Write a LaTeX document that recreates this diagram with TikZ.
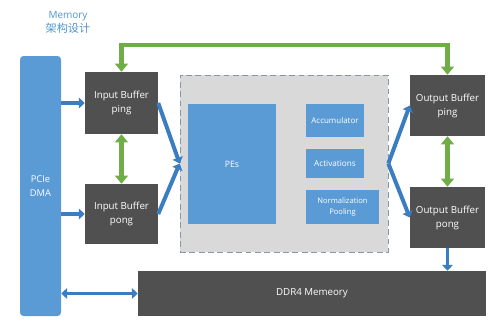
\documentclass[tikz,border=0pt]{standalone}
\usepackage{fontspec}
\setmainfont{Open Sans}
\newfontfamily\cjk{Noto Sans CJK SC}
\usetikzlibrary{arrows.meta}
\definecolor{boxblue}{HTML}{5B9BD5}
\definecolor{bufgray}{HTML}{505050}
\definecolor{coregray}{HTML}{D9D9D9}
\definecolor{coreedge}{HTML}{8497B0}
\definecolor{linkgreen}{HTML}{70AD47}
\definecolor{linkblue}{HTML}{3A7DC0}
\definecolor{titleblue}{HTML}{4F96C8}

\begin{document}
\begin{tikzpicture}[
  bufbox/.style={fill=bufgray, text=white, align=center, inner sep=0pt,
    font=\fontsize{8.3}{12}\selectfont},
  bluebox/.style={fill=boxblue, text=white, align=center, inner sep=0pt},
  datalink/.style={draw=linkblue, line width=3.4pt,
    >={Triangle[length=5pt,width=9pt]}},
  swaplink/.style={draw=linkgreen, line width=4pt,
    >={Triangle[length=7pt,width=11pt]}}
]
  \useasboundingbox (0,0) rectangle (15,-9.75);
  % title
  \node[text=titleblue, align=center, font=\fontsize{8.5}{12}\selectfont] (title) at (2.04,-0.66)
    {Memory\\{\cjk\fontsize{9.5}{12}\selectfont 架构设计}};
  % host side
  \node[bluebox, rounded corners=3pt, minimum width=1.23cm, minimum height=7.8cm,
    font=\fontsize{8}{12}\selectfont] (pcie) at (1.215,-5.58) {PCIe\\DMA};
  \node[bufbox, minimum width=2.19cm, minimum height=1.86cm] (inping) at (3.645,-3.09) {Input Buffer\\ping};
  \node[bufbox, minimum width=2.19cm, minimum height=1.8cm] (inpong) at (3.645,-6.42) {Input Buffer\\pong};
  % compute core
  \node[fill=coregray, draw=coreedge, line width=0.6pt, dash pattern=on 5pt off 3pt,
    minimum width=6.24cm, minimum height=5.31cm] (core) at (8.52,-4.905) {};
  \node[bluebox, minimum width=2.64cm, minimum height=3.6cm,
    font=\fontsize{7.5}{10}\selectfont] (pes) at (6.96,-4.92) {PEs};
  \node[bluebox, minimum width=1.74cm, minimum height=0.99cm,
    font=\fontsize{6.8}{9}\selectfont] (acc) at (10.05,-3.615) {Accumulator};
  \node[bluebox, minimum width=1.74cm, minimum height=0.87cm,
    font=\fontsize{7}{9}\selectfont] (act) at (10.05,-4.905) {Activations};
  \node[bluebox, minimum width=2.19cm, minimum height=1.02cm,
    font=\fontsize{6.5}{9}\selectfont] (norm) at (10.275,-6.21) {Normalization\\Pooling};
  % output side
  \node[bufbox, minimum width=2.25cm, minimum height=1.83cm] (outping) at (13.425,-3.165) {Output Buffer\\ping};
  \node[bufbox, minimum width=2.25cm, minimum height=1.83cm] (outpong) at (13.425,-6.525) {Output Buffer\\pong};
  \node[bufbox, minimum width=10.44cm, minimum height=1.35cm] (ddr) at (9.36,-8.805) {DDR4 Memeory};
  % blue data paths
  \draw[datalink, ->] (pcie.east |- inping) -- (inping.west);
  \draw[datalink, ->] (pcie.east |- inpong) -- (inpong.west);
  \draw[datalink, <->] (pcie.east |- ddr) -- (ddr.west);
  \draw[datalink, ->] (inping.east) -- (core.west);
  \draw[datalink, ->] (inpong.east) -- (core.west);
  \draw[datalink, ->] (core.east) -- (outping.west);
  \draw[datalink, ->] (core.east) -- (outpong.west);
  \draw[datalink, ->] (outpong.south) -- (outpong.south |- ddr.north);
  % green ping-pong paths
  \coordinate (bus) at (0,-1.35);
  \draw[swaplink, <->] (inping.north) -- (inping.north |- bus) -- (outping.north |- bus) -- (outping.north);
  \draw[swaplink, <->] (inping.south) -- (inpong.north);
  \draw[swaplink, <->] (outping.south) -- (outpong.north);
\end{tikzpicture}
\end{document}
